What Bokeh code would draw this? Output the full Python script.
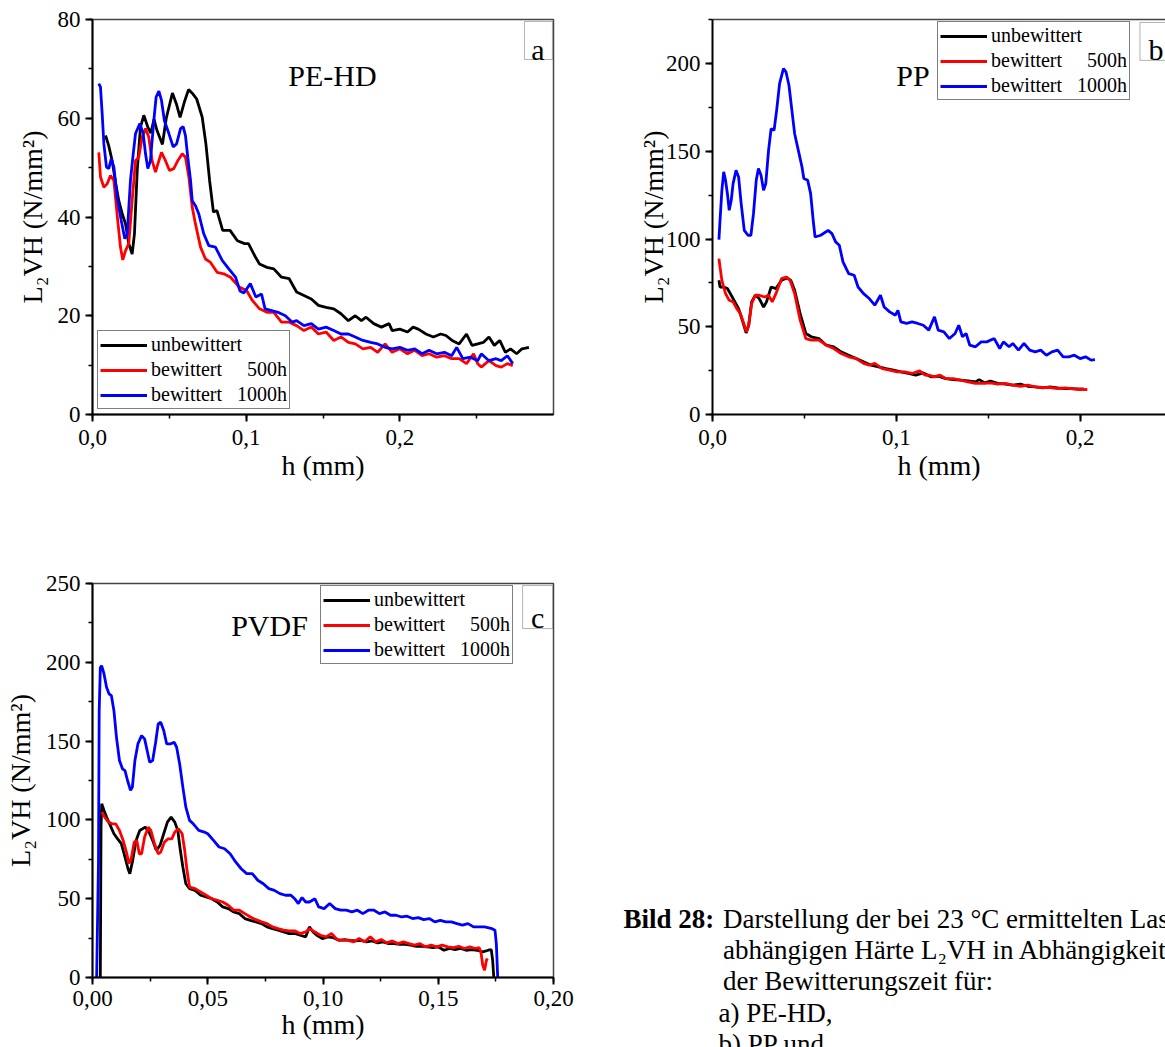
from bokeh.plotting import figure
from bokeh.models import (Range1d, SingleIntervalTicker, CustomJSTickFormatter, Label,
                          BoxAnnotation, Legend, LegendItem, LinearAxis, FixedTicker)
from bokeh.layouts import column, row
from bokeh.embed import file_html
from bokeh.resources import INLINE

SERIF = "Liberation Serif"

# ---------------- data ----------------
SERIES_LABELS = ["unbewittert",
                 "bewittert" + "\u00a0" * 5 + "500h",
                 "bewittert" + "\u00a0" * 3 + "1000h"]
SERIES_COLORS = ["#000000", "#ff0000", "#0000ff"]

# Panel a: PE-HD
a_unb_h = [0.0085, 0.0105, 0.0128, 0.0150, 0.0171, 0.0195, 0.0215, 0.0236, 0.0258, 0.0273, 0.0291, 0.0312,
           0.0334, 0.0360, 0.0380, 0.0400, 0.0420, 0.0455, 0.0480, 0.0520, 0.0545, 0.0570, 0.0600, 0.0625,
           0.0654, 0.0678, 0.0714, 0.0738, 0.0762, 0.0787, 0.0810, 0.0847, 0.0895, 0.0943, 0.0990, 0.1015,
           0.1060, 0.1087, 0.1135, 0.1180, 0.1230, 0.1280, 0.1328, 0.1376, 0.1424, 0.1470, 0.1520, 0.1570,
           0.1617, 0.1665, 0.1710, 0.1750, 0.1780, 0.1830, 0.1880, 0.1930, 0.1950, 0.2000, 0.2050, 0.2086,
           0.2120, 0.2170, 0.2218, 0.2266, 0.2300, 0.2340, 0.2386, 0.2434, 0.2470, 0.2507, 0.2543, 0.2580,
           0.2615, 0.2650, 0.2687, 0.2720, 0.2760, 0.2795, 0.2840]
a_unb_v = [56.5, 54.5, 51.4, 47.0, 43.3, 40.5, 38.6, 34.6, 32.5, 36.6, 49.4, 58.2,
           60.6, 58.2, 57.0, 59.8, 57.5, 54.7, 60.0, 65.1, 63.0, 60.2, 63.5, 65.8,
           64.9, 63.9, 60.2, 54.8, 47.4, 41.0, 41.3, 37.3, 37.3, 35.2, 34.6, 34.6,
           31.9, 30.5, 29.8, 29.5, 27.8, 27.5, 24.8, 24.1, 23.4, 22.1, 21.7, 21.4,
           20.4, 19.0, 20.0, 19.0, 19.7, 18.4, 17.7, 18.4, 17.0, 17.3, 16.7, 17.7,
           17.3, 16.3, 15.7, 16.3, 16.0, 15.0, 14.3, 16.3, 14.0, 14.3, 14.6, 15.7,
           14.0, 15.0, 12.6, 13.3, 12.3, 13.3, 13.6]

a_500_h = [0.0041, 0.0052, 0.0074, 0.0095, 0.0117, 0.0139, 0.0160, 0.0182, 0.0197, 0.0215, 0.0236, 0.0258,
           0.0280, 0.0301, 0.0323, 0.0345, 0.0366, 0.0388, 0.0410, 0.0432, 0.0449, 0.0475, 0.0501, 0.0529,
           0.0555, 0.0584, 0.0605, 0.0627, 0.0649, 0.0670, 0.0703, 0.0735, 0.0768, 0.0811, 0.0854, 0.0898,
           0.0955, 0.1003, 0.1040, 0.1087, 0.1135, 0.1180, 0.1230, 0.1280, 0.1328, 0.1376, 0.1424, 0.1470,
           0.1520, 0.1570, 0.1617, 0.1665, 0.1710, 0.1760, 0.1810, 0.1856, 0.1904, 0.1950, 0.2000, 0.2050,
           0.2097, 0.2145, 0.2190, 0.2240, 0.2290, 0.2337, 0.2386, 0.2434, 0.2480, 0.2507, 0.2530, 0.2580,
           0.2626, 0.2660, 0.2700, 0.2735]
a_500_v = [53.1, 48.1, 46.0, 46.7, 48.4, 47.4, 40.6, 33.9, 31.3, 33.2, 34.6, 43.3,
           51.4, 52.1, 56.2, 57.9, 56.2, 51.4, 49.1, 51.4, 53.1, 51.4, 49.4, 49.8,
           51.4, 52.8, 52.1, 48.1, 42.0, 38.6, 33.9, 31.5, 30.8, 28.8, 28.5, 27.8,
           25.8, 25.1, 23.1, 21.4, 20.7, 20.7, 18.7, 18.7, 18.0, 17.0, 17.7, 16.3,
           16.7, 15.0, 15.7, 14.6, 14.3, 13.3, 13.6, 12.6, 14.3, 12.6, 13.3, 12.3,
           13.0, 11.9, 12.3, 11.6, 11.9, 11.3, 11.3, 10.3, 12.3, 10.3, 9.6, 10.9,
           9.9, 9.6, 10.3, 9.9]

a_1000_h = [0.0041, 0.0052, 0.0063, 0.0074, 0.0091, 0.0106, 0.0122, 0.0139, 0.0160, 0.0187, 0.0210, 0.0226,
            0.0247, 0.0265, 0.0280, 0.0308, 0.0330, 0.0345, 0.0360, 0.0377, 0.0399, 0.0414, 0.0432, 0.0449,
            0.0468, 0.0497, 0.0525, 0.0547, 0.0573, 0.0590, 0.0605, 0.0620, 0.0638, 0.0649, 0.0670, 0.0692,
            0.0724, 0.0757, 0.0800, 0.0844, 0.0887, 0.0931, 0.0960, 0.0985, 0.1027, 0.1063, 0.1100, 0.1123,
            0.1160, 0.1207, 0.1255, 0.1300, 0.1328, 0.1376, 0.1424, 0.1470, 0.1520, 0.1570, 0.1617, 0.1665,
            0.1710, 0.1760, 0.1810, 0.1856, 0.1904, 0.1950, 0.2000, 0.2050, 0.2097, 0.2145, 0.2190, 0.2240,
            0.2290, 0.2337, 0.2370, 0.2410, 0.2460, 0.2507, 0.2530, 0.2580, 0.2626, 0.2660, 0.2700, 0.2735]
a_1000_v = [67.0, 66.3, 60.9, 54.8, 50.1, 49.8, 51.8, 50.1, 44.0, 39.3, 35.6, 36.6,
            47.4, 52.8, 56.9, 58.9, 56.9, 52.8, 49.8, 51.4, 59.5, 64.3, 65.5, 63.6,
            59.5, 56.9, 54.2, 54.8, 57.9, 58.3, 56.5, 52.1, 47.4, 43.3, 42.3, 40.6,
            36.6, 34.2, 33.9, 31.2, 29.5, 27.8, 25.0, 24.6, 26.5, 23.8, 24.4, 21.4,
            21.1, 20.7, 20.0, 18.7, 19.0, 18.0, 18.4, 17.3, 17.7, 17.0, 16.3, 16.3,
            15.7, 15.0, 14.6, 14.3, 13.6, 13.3, 13.6, 13.0, 13.3, 12.3, 13.0, 12.3,
            12.6, 11.9, 13.6, 11.3, 11.6, 10.9, 12.3, 10.9, 11.3, 10.9, 11.9, 10.3]

# Panel b: PP
b_unb_h = [0.0035, 0.0041, 0.0061, 0.0081, 0.0102, 0.0122, 0.0142, 0.0162, 0.0183, 0.0197, 0.0213, 0.0233,
           0.0254, 0.0278, 0.0294, 0.0319, 0.0345, 0.0376, 0.0406, 0.0426, 0.0447, 0.0477, 0.0508, 0.0538,
           0.0579, 0.0619, 0.0660, 0.0700, 0.0741, 0.0782, 0.0822, 0.0863, 0.0903, 0.0944, 0.0985, 0.1025,
           0.1066, 0.1106, 0.1147, 0.1188, 0.1228, 0.1269, 0.1309, 0.1350, 0.1390, 0.1431, 0.1451, 0.1482,
           0.1512, 0.1553, 0.1594, 0.1634, 0.1675, 0.1715, 0.1756, 0.1797, 0.1837, 0.1878, 0.1918, 0.1959,
           0.2000, 0.2020]
b_unb_v = [76.5, 72.7, 72.7, 71.8, 68.0, 64.2, 60.4, 53.8, 46.5, 50.9, 64.2, 68.0,
           66.1, 61.3, 64.2, 72.7, 71.8, 76.5, 77.9, 76.5, 70.8, 57.5, 46.2, 44.3,
           43.3, 39.5, 38.6, 35.7, 33.8, 31.9, 30.0, 28.1, 27.2, 26.2, 25.3, 24.3,
           23.4, 22.4, 23.7, 21.5, 21.8, 20.5, 19.9, 19.6, 19.2, 18.6, 19.9, 18.0,
           19.0, 17.7, 17.3, 16.7, 17.3, 16.1, 15.8, 15.2, 15.8, 15.2, 14.8, 14.8,
           14.4, 14.6]

b_500_h = [0.0035, 0.0041, 0.0051, 0.0071, 0.0091, 0.0112, 0.0132, 0.0152, 0.0173, 0.0185, 0.0197, 0.0213,
           0.0233, 0.0254, 0.0284, 0.0305, 0.0325, 0.0345, 0.0376, 0.0402, 0.0422, 0.0447, 0.0477, 0.0508,
           0.0538, 0.0579, 0.0619, 0.0660, 0.0700, 0.0741, 0.0782, 0.0822, 0.0853, 0.0883, 0.0924, 0.0964,
           0.1005, 0.1045, 0.1086, 0.1127, 0.1157, 0.1177, 0.1208, 0.1238, 0.1269, 0.1309, 0.1350, 0.1390,
           0.1431, 0.1472, 0.1512, 0.1553, 0.1594, 0.1634, 0.1675, 0.1715, 0.1756, 0.1797, 0.1837, 0.1878,
           0.1918, 0.1959, 0.2000, 0.2040]
b_500_v = [88.9, 84.1, 76.5, 68.9, 65.1, 64.2, 60.4, 57.5, 50.9, 47.1, 50.9, 63.2,
           68.0, 68.0, 67.0, 68.0, 64.2, 68.9, 77.5, 78.4, 76.5, 68.9, 53.8, 43.3,
           42.4, 42.4, 39.5, 37.6, 34.8, 32.9, 31.9, 29.1, 28.1, 29.1, 26.2, 25.3,
           24.3, 24.3, 23.4, 24.9, 22.4, 22.4, 21.5, 22.4, 20.5, 20.5, 19.6, 18.6,
           17.7, 17.7, 18.0, 17.3, 17.7, 16.7, 16.1, 16.7, 15.8, 15.4, 15.4, 14.8,
           15.2, 14.6, 14.4, 14.2]

b_1000_h = [0.0035, 0.0041, 0.0051, 0.0061, 0.0071, 0.0081, 0.0091, 0.0102, 0.0112, 0.0128, 0.0142, 0.0156,
            0.0173, 0.0193, 0.0209, 0.0223, 0.0238, 0.0250, 0.0264, 0.0278, 0.0290, 0.0305, 0.0319, 0.0335,
            0.0349, 0.0365, 0.0386, 0.0400, 0.0416, 0.0432, 0.0447, 0.0467, 0.0487, 0.0497, 0.0518, 0.0534,
            0.0548, 0.0558, 0.0589, 0.0629, 0.0650, 0.0670, 0.0690, 0.0710, 0.0741, 0.0771, 0.0792, 0.0822,
            0.0853, 0.0883, 0.0914, 0.0934, 0.0964, 0.0995, 0.1009, 0.1025, 0.1056, 0.1086, 0.1117, 0.1147,
            0.1177, 0.1208, 0.1228, 0.1259, 0.1289, 0.1320, 0.1340, 0.1360, 0.1380, 0.1400, 0.1431, 0.1462,
            0.1492, 0.1533, 0.1563, 0.1583, 0.1614, 0.1634, 0.1665, 0.1695, 0.1726, 0.1756, 0.1786, 0.1817,
            0.1847, 0.1878, 0.1908, 0.1939, 0.1969, 0.2000, 0.2030, 0.2060, 0.2081]
b_1000_v = [99.7, 110.7, 127.8, 138.3, 133.5, 125.9, 116.4, 122.1, 131.6, 139.2, 135.4, 120.2,
            105.0, 102.2, 102.2, 114.5, 133.5, 140.2, 136.4, 127.8, 131.6, 150.6, 163.0, 162.0,
            173.4, 188.6, 197.2, 195.3, 187.7, 173.4, 160.1, 150.6, 141.1, 134.5, 133.5, 125.9,
            110.7, 101.2, 102.2, 105.0, 103.1, 98.4, 96.5, 87.0, 80.3, 79.4, 72.7, 68.9,
            66.1, 62.3, 68.0, 61.3, 58.5, 56.6, 59.4, 52.8, 51.9, 52.8, 51.9, 50.9,
            48.1, 55.7, 48.1, 47.1, 43.3, 46.2, 50.9, 44.3, 46.2, 39.5, 38.6, 41.4,
            41.4, 43.3, 37.6, 41.4, 38.6, 40.5, 36.7, 40.5, 36.7, 35.7, 36.7, 33.8,
            35.7, 36.7, 32.9, 32.9, 33.8, 31.9, 32.9, 31.0, 31.3]

# Panel c: PVDF
c_unb_h = [0.0034, 0.0037, 0.0040, 0.0050, 0.0061, 0.0077, 0.0093, 0.0109, 0.0125, 0.0141, 0.0154, 0.0162,
           0.0173, 0.0189, 0.0205, 0.0229, 0.0245, 0.0261, 0.0277, 0.0293, 0.0309, 0.0325, 0.0341, 0.0357,
           0.0370, 0.0381, 0.0392, 0.0405, 0.0421, 0.0445, 0.0469, 0.0493, 0.0517, 0.0541, 0.0565, 0.0589,
           0.0613, 0.0637, 0.0661, 0.0685, 0.0709, 0.0733, 0.0757, 0.0781, 0.0805, 0.0829, 0.0853, 0.0877,
           0.0901, 0.0925, 0.0941, 0.0957, 0.0973, 0.0997, 0.1021, 0.1045, 0.1069, 0.1093, 0.1117, 0.1141,
           0.1165, 0.1189, 0.1213, 0.1237, 0.1261, 0.1285, 0.1309, 0.1333, 0.1357, 0.1381, 0.1405, 0.1429,
           0.1453, 0.1477, 0.1501, 0.1525, 0.1549, 0.1573, 0.1597, 0.1621, 0.1645, 0.1669, 0.1693, 0.1717,
           0.1730, 0.1736, 0.1741]
c_unb_v = [0.0, 95.4, 110.2, 106.0, 101.8, 96.5, 91.2, 88.0, 84.9, 76.4, 69.0, 65.9,
           73.3, 87.0, 93.3, 95.4, 92.3, 87.0, 80.7, 83.8, 91.2, 98.6, 101.8, 98.6,
           93.3, 80.7, 70.1, 59.5, 56.4, 55.3, 52.2, 51.1, 50.0, 47.9, 44.8, 43.7,
           41.6, 40.5, 37.4, 36.3, 35.3, 34.2, 32.1, 31.0, 30.0, 28.9, 27.9, 27.9,
           26.8, 25.8, 32.1, 28.9, 26.8, 24.7, 25.8, 25.3, 23.6, 24.1, 23.6, 23.2,
           23.6, 22.6, 23.2, 22.0, 22.6, 21.5, 21.5, 21.1, 21.1, 20.5, 19.8, 19.8,
           19.4, 19.0, 19.4, 17.3, 18.4, 17.7, 18.4, 17.3, 17.7, 17.3, 16.3, 17.3,
           17.7, 11.0, 0.0]

c_500_h = [0.0040, 0.0053, 0.0069, 0.0085, 0.0101, 0.0117, 0.0133, 0.0149, 0.0158, 0.0168, 0.0181, 0.0192,
           0.0203, 0.0213, 0.0226, 0.0242, 0.0253, 0.0269, 0.0285, 0.0296, 0.0312, 0.0328, 0.0344, 0.0357,
           0.0373, 0.0389, 0.0400, 0.0410, 0.0421, 0.0445, 0.0469, 0.0493, 0.0517, 0.0541, 0.0565, 0.0589,
           0.0613, 0.0637, 0.0661, 0.0685, 0.0709, 0.0733, 0.0757, 0.0781, 0.0805, 0.0829, 0.0853, 0.0877,
           0.0901, 0.0925, 0.0941, 0.0965, 0.0989, 0.1013, 0.1037, 0.1061, 0.1085, 0.1109, 0.1133, 0.1157,
           0.1181, 0.1205, 0.1229, 0.1253, 0.1277, 0.1301, 0.1325, 0.1349, 0.1373, 0.1397, 0.1421, 0.1445,
           0.1469, 0.1493, 0.1517, 0.1541, 0.1565, 0.1589, 0.1613, 0.1637, 0.1661, 0.1677, 0.1685, 0.1693,
           0.1701, 0.1709, 0.1714]
c_500_v = [104.9, 101.8, 98.6, 97.5, 97.5, 93.3, 87.0, 78.5, 72.2, 75.4, 85.9, 87.0,
           78.5, 78.5, 89.1, 95.4, 93.3, 84.9, 78.5, 79.6, 85.9, 88.0, 88.0, 92.3,
           94.4, 91.2, 80.7, 68.0, 57.4, 56.4, 54.3, 52.2, 50.0, 49.0, 47.9, 45.8,
           42.7, 42.7, 40.5, 38.4, 36.7, 35.3, 34.2, 32.1, 31.0, 30.0, 29.6, 29.6,
           27.9, 28.9, 31.0, 28.9, 26.8, 25.8, 27.9, 24.1, 23.6, 23.6, 22.6, 24.7,
           22.6, 25.8, 22.6, 24.1, 22.0, 23.2, 21.5, 22.6, 21.5, 20.5, 21.5, 19.4,
           20.5, 19.4, 20.5, 19.4, 19.0, 19.8, 18.4, 19.4, 18.4, 19.0, 16.3, 7.8,
           4.6, 11.0, 12.0]

c_1000_h = [0.0018, 0.0026, 0.0029, 0.0034, 0.0040, 0.0050, 0.0061, 0.0072, 0.0082, 0.0093, 0.0104, 0.0117,
            0.0130, 0.0141, 0.0152, 0.0165, 0.0173, 0.0184, 0.0197, 0.0213, 0.0226, 0.0237, 0.0248, 0.0261,
            0.0274, 0.0285, 0.0296, 0.0309, 0.0322, 0.0338, 0.0354, 0.0365, 0.0378, 0.0392, 0.0405, 0.0421,
            0.0437, 0.0461, 0.0485, 0.0500, 0.0525, 0.0549, 0.0573, 0.0597, 0.0621, 0.0645, 0.0669, 0.0693,
            0.0717, 0.0741, 0.0765, 0.0789, 0.0813, 0.0837, 0.0861, 0.0877, 0.0893, 0.0909, 0.0925, 0.0941,
            0.0965, 0.0981, 0.1005, 0.1029, 0.1053, 0.1077, 0.1101, 0.1125, 0.1149, 0.1173, 0.1197, 0.1221,
            0.1245, 0.1269, 0.1293, 0.1317, 0.1341, 0.1365, 0.1389, 0.1413, 0.1437, 0.1461, 0.1485, 0.1509,
            0.1533, 0.1557, 0.1581, 0.1605, 0.1629, 0.1653, 0.1677, 0.1701, 0.1733, 0.1746, 0.1752, 0.1758]
c_1000_v = [0.0, 74.0, 169.0, 196.8, 197.8, 192.6, 184.1, 179.9, 178.8, 169.3, 152.4, 137.7,
            132.4, 131.3, 125.0, 118.7, 120.8, 137.7, 148.2, 153.5, 151.4, 144.0, 136.6, 137.7,
            149.3, 160.9, 162.0, 156.7, 148.2, 148.2, 149.3, 146.1, 135.6, 120.8, 108.1, 99.7,
            97.5, 93.3, 92.3, 91.2, 87.0, 82.8, 81.7, 78.5, 73.3, 69.0, 65.9, 65.9,
            61.7, 59.5, 56.4, 55.3, 53.2, 52.2, 52.2, 50.0, 46.9, 50.7, 47.9, 47.9,
            50.0, 44.8, 43.7, 46.9, 43.7, 42.7, 42.7, 41.6, 42.7, 40.5, 42.7, 42.7,
            40.5, 41.6, 39.5, 39.5, 38.4, 38.9, 37.4, 38.0, 36.7, 37.4, 35.3, 36.3,
            35.3, 35.3, 34.2, 33.2, 34.2, 32.1, 32.1, 32.1, 31.0, 30.0, 21.5, 0.0]

CAPTION_BOLD = "Bild 28:"
CAPTION_LINES = ["Darstellung der bei 23 °C ermittelten Last-",
                 "abhängigen Härte L\u2082VH in Abhängigkeit",
                 "der Bewitterungszeit für:",
                 "a) PE-HD,",
                 "b) PP und"]

Y_LABEL = "L\u2082VH (N/mm\u00b2)"
X_LABEL = "h (mm)"


def make_panel(width, height, borders, xr, yr, xint, yint, xdec, series, legend_loc,
               title, title_xy, letter, letter_box, letter_xy, ylabel_standoff,
               xlabel_standoff, xtick_standoff, right_outline=True):
    left, right, top, bottom = borders
    p = figure(width=width, height=height, x_range=Range1d(*xr), y_range=Range1d(*yr),
               toolbar_location=None, output_backend="svg",
               min_border_left=left, min_border_right=right,
               min_border_top=top, min_border_bottom=bottom)
    p.background_fill_color = "white"
    p.border_fill_color = "white"
    p.grid.grid_line_color = None

    xa = p.below[0]
    ya = p.left[0]
    xa.ticker = SingleIntervalTicker(interval=xint, num_minor_ticks=2)
    ya.ticker = SingleIntervalTicker(interval=yint, num_minor_ticks=2)
    xa.formatter = CustomJSTickFormatter(
        code="return tick.toFixed(%d).replace('.', ',');" % xdec)
    ya.formatter = CustomJSTickFormatter(code="return tick.toFixed(0);")
    for ax in (xa, ya):
        ax.axis_line_width = 2
        ax.axis_line_color = "black"
        ax.major_tick_out = 7
        ax.major_tick_in = 0
        ax.minor_tick_out = 4
        ax.minor_tick_in = 0
        ax.major_tick_line_width = 2
        ax.minor_tick_line_width = 1.5
        ax.major_tick_line_color = "black"
        ax.minor_tick_line_color = "black"
        ax.major_label_text_font = SERIF
        ax.major_label_text_font_size = "23px"
        ax.major_label_text_color = "black"
        ax.axis_label_text_font = SERIF
        ax.axis_label_text_font_size = "28px"
        ax.axis_label_text_font_style = "normal"
        ax.axis_label_text_color = "black"
    ya.major_label_standoff = 5
    xa.major_label_standoff = xtick_standoff
    xa.axis_label = X_LABEL
    ya.axis_label = Y_LABEL
    xa.axis_label_standoff = xlabel_standoff
    ya.axis_label_standoff = ylabel_standoff

    if right_outline:
        p.outline_line_color = "#444444"
        p.outline_line_width = 1.5
    else:
        p.outline_line_color = None
        top_ax = LinearAxis(ticker=FixedTicker(ticks=[]), axis_line_color="#444444",
                            axis_line_width=1.5, major_tick_line_color=None,
                            minor_tick_line_color=None, major_label_text_font_size="0px",
                            axis_label=None)
        p.add_layout(top_ax, "above")

    items = []
    for (hs, vs), lab, col in zip(series, SERIES_LABELS, SERIES_COLORS):
        r = p.line(hs, vs, line_color=col, line_width=2.8)
        items.append(LegendItem(label=lab, renderers=[r]))
    leg = Legend(items=items, location=legend_loc, border_line_color="black",
                 border_line_width=1, background_fill_color="white", background_fill_alpha=1,
                 label_text_font=SERIF, label_text_font_size="20px", label_text_color="black",
                 glyph_width=47, glyph_height=22, label_height=22, label_standoff=4,
                 spacing=2, padding=2, margin=5)
    p.add_layout(leg, "center")

    p.add_layout(Label(x=title_xy[0], y=title_xy[1], text=title, text_font=SERIF,
                       text_font_size="30px", text_align="center", text_baseline="alphabetic",
                       text_color="black"))
    l, r_, t, b = letter_box
    p.add_layout(BoxAnnotation(left=l, right=r_, top=t, bottom=b, fill_color="white",
                               fill_alpha=1, line_color="black", line_width=1))
    p.add_layout(Label(x=letter_xy[0], y=letter_xy[1], text=letter, text_font=SERIF,
                       text_font_size="30px", text_align="center", text_baseline="alphabetic",
                       text_color="black"))
    return p


pa = make_panel(620, 494, (92, 67, 19, 80), (0, 0.3), (0, 80), 0.1, 20, 1,
                [(a_unb_h, a_unb_v), (a_500_h, a_500_v), (a_1000_h, a_1000_v)],
                "bottom_left", "PE-HD", (0.1562, 68.7), "a",
                (0.2811, 0.2993, 79.6, 71.9), (0.2899, 73.9), 7, 2, 8)

pb = make_panel(545, 494, (92, 0, 19, 80), (0, 0.2465), (0, 225.2), 0.1, 50, 1,
                [(b_unb_h, b_unb_v), (b_500_h, b_500_v), (b_1000_h, b_1000_v)],
                (225, 314), "PP", (0.1091, 193.3), "b",
                (0.2326, 0.2600, 223.5, 201.9), (0.2413, 208.0), -6, 2, 8,
                right_outline=False)

pc = make_panel(620, 553, (92, 67, 89, 70), (0, 0.2), (0, 250), 0.05, 50, 2,
                [(c_unb_h, c_unb_v), (c_500_h, c_500_v), (c_1000_h, c_1000_v)],
                (228, 313), "PVDF", (0.0768, 223.4), "c",
                (0.1866, 0.1996, 248.7, 221.4), (0.1931, 228.4), 7, 0, 6)

# caption panel: own frame covering the whole figure (not aligned with panel c);
# coordinates in px from its bottom-left corner
cap = figure(width=545, height=553, x_range=Range1d(0, 545), y_range=Range1d(0, 553),
             toolbar_location=None, output_backend="svg", x_axis_type=None, y_axis_type=None,
             min_border=0, frame_align=False)
cap.grid.grid_line_color = None
cap.outline_line_color = None
cap.background_fill_color = "white"
cap.border_fill_color = "white"
cap.add_layout(Label(x=3, y=114, text=CAPTION_BOLD, text_font=SERIF, text_font_size="27px",
                     text_font_style="bold", text_color="black"))
line_pos = [(102.5, 114), (102.5, 83), (102.5, 52), (98, 20), (98, -11)]
for (lx, ly), txt in zip(line_pos, CAPTION_LINES):
    cap.add_layout(Label(x=lx, y=ly, text=txt, text_font=SERIF, text_font_size="27px",
                         text_color="black"))

layout = column(row(pa, pb), row(pc, cap))

open("out.html", "w").write(file_html(layout, INLINE))
